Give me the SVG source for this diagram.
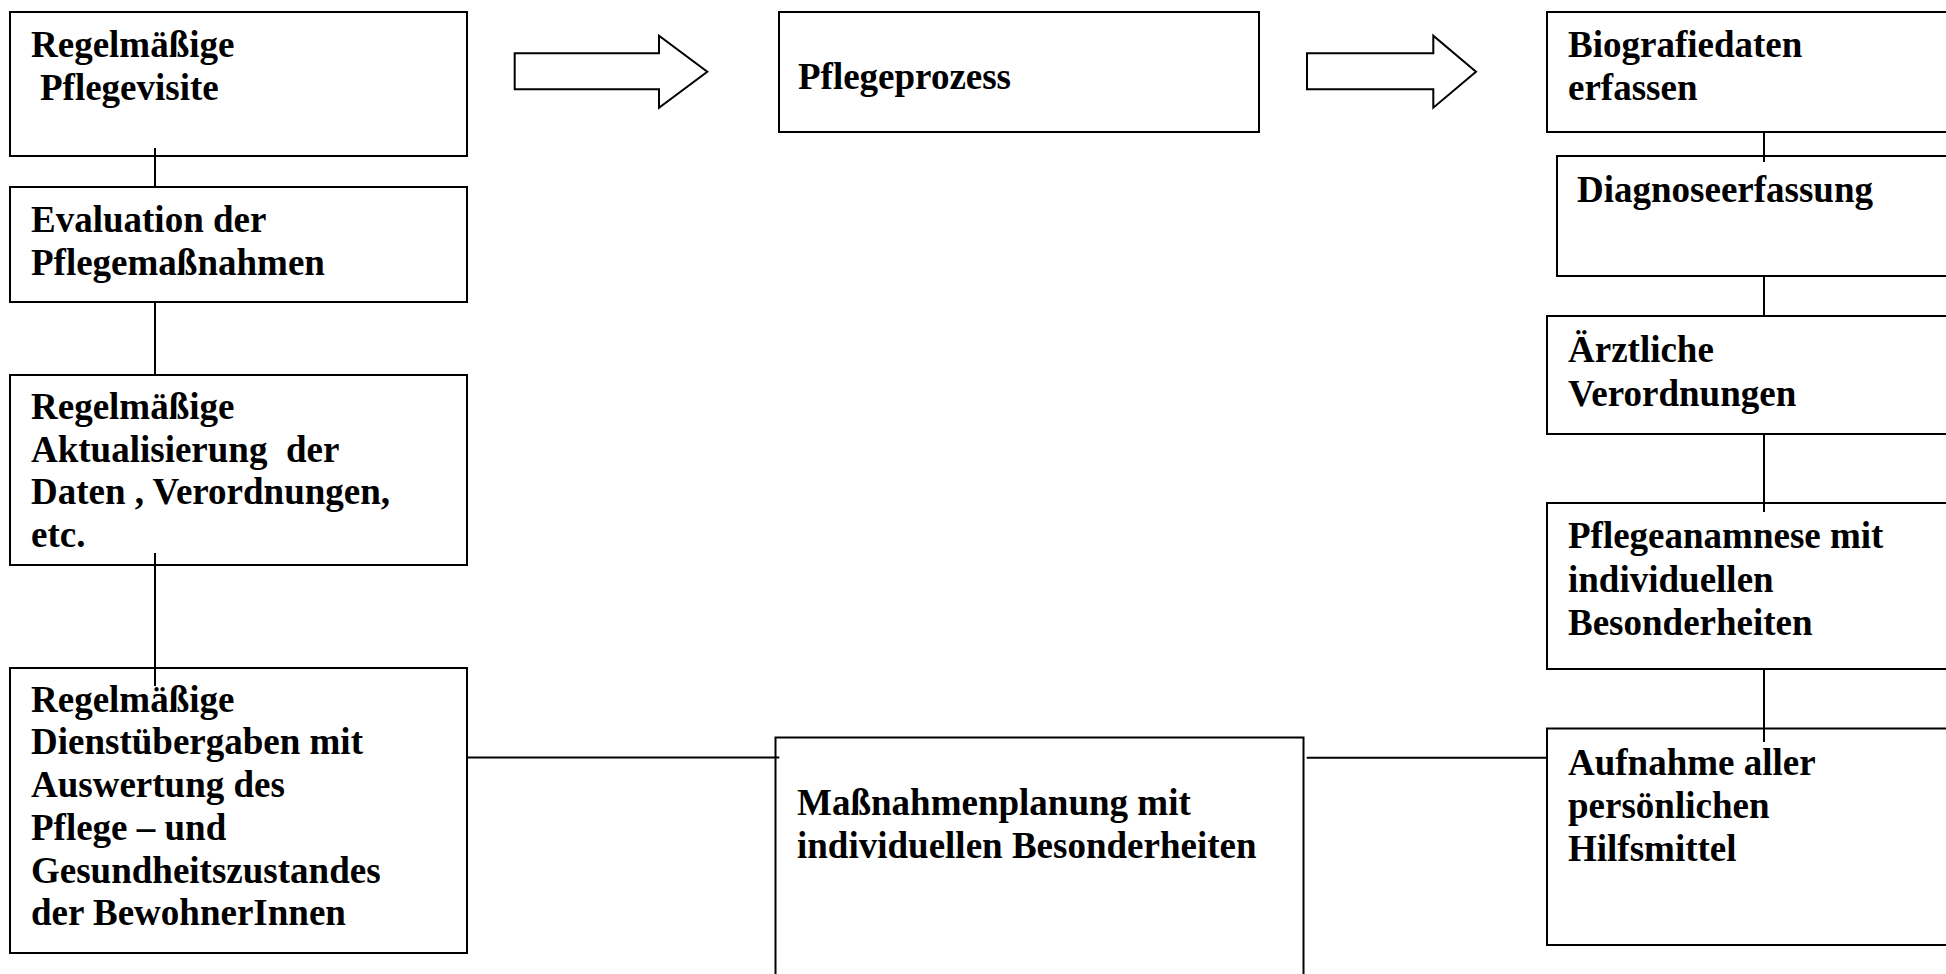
<svg xmlns="http://www.w3.org/2000/svg" width="1946" height="974" viewBox="0 0 1946 974">
<style>
.box{fill:#fff;stroke:#000;stroke-width:2}
.arrow{fill:#fff;stroke:#000;stroke-width:2;stroke-linejoin:miter}
.t{font-family:"Liberation Serif","Times New Roman",serif;font-weight:bold;font-size:37px;fill:#000}
.c{stroke:#000;stroke-width:2;fill:none}
</style>
<rect width="1946" height="974" fill="#fff"/>
<g id="n1"><rect class="box" x="10" y="12" width="457" height="144"/>
<text class="t" x="31" y="57">Regelmäßige</text><text class="t" x="40" y="100">Pflegevisite</text></g>
<g id="n2"><rect class="box" x="10" y="187" width="457" height="115"/>
<text class="t" x="31" y="232">Evaluation der</text><text class="t" x="31" y="275">Pflegemaßnahmen</text></g>
<g id="n3"><rect class="box" x="10" y="375" width="457" height="190"/>
<text class="t" x="31" y="419">Regelmäßige</text><text class="t" x="31" y="462" xml:space="preserve">Aktualisierung  der</text><text class="t" x="31" y="504">Daten , Verordnungen,</text><text class="t" x="31" y="547">etc.</text></g>
<g id="n4"><rect class="box" x="10" y="668" width="457" height="285"/>
<text class="t" x="31" y="712">Regelmäßige</text><text class="t" x="31" y="754">Dienstübergaben mit</text><text class="t" x="31" y="797">Auswertung des</text><text class="t" x="31" y="840">Pflege – und</text><text class="t" x="31" y="883">Gesundheitszustandes</text><text class="t" x="31" y="925">der BewohnerInnen</text></g>
<g id="n5"><rect class="box" x="779" y="12" width="480" height="120"/>
<text class="t" x="798" y="89">Pflegeprozess</text></g>
<g id="n6"><rect class="box" x="775.5" y="737.5" width="528" height="260"/>
<text class="t" x="797" y="815">Maßnahmenplanung mit</text><text class="t" x="797" y="858">individuellen Besonderheiten</text></g>
<g id="n7"><rect class="box" x="1547" y="12" width="420" height="120"/>
<text class="t" x="1568" y="57">Biografiedaten</text><text class="t" x="1568" y="100">erfassen</text></g>
<g id="n8"><rect class="box" x="1557" y="156" width="410" height="120"/>
<text class="t" x="1577" y="202">Diagnoseerfassung</text></g>
<g id="n9"><rect class="box" x="1547" y="316" width="420" height="118"/>
<text class="t" x="1568" y="362">Ärztliche</text><text class="t" x="1568" y="406">Verordnungen</text></g>
<g id="n10"><rect class="box" x="1547" y="503" width="420" height="166"/>
<text class="t" x="1568" y="548">Pflegeanamnese mit</text><text class="t" x="1568" y="592">individuellen</text><text class="t" x="1568" y="635">Besonderheiten</text></g>
<g id="n11"><rect class="box" x="1547" y="728.5" width="420" height="216.5"/>
<text class="t" x="1568" y="775">Aufnahme aller</text><text class="t" x="1568" y="818">persönlichen</text><text class="t" x="1568" y="861">Hilfsmittel</text></g>
<g id="connectors">
<path class="arrow" d="M514.7,53.3 H659 V35.7 L707.3,71.7 L659,107.7 V89.3 H514.7 Z"/>
<path class="arrow" d="M1307,53.3 H1433.3 V35.7 L1476,71.7 L1433.3,107.7 V89.3 H1307 Z"/>
<path class="c" d="M155,148 V187"/>
<path class="c" d="M155,302 V375"/>
<path class="c" d="M155,553 V686"/>
<path class="c" d="M467,757.5 H779.3"/>
<path class="c" d="M1306.7,757.7 H1547"/>
<path class="c" d="M1764,132 V162"/>
<path class="c" d="M1764,276 V316"/>
<path class="c" d="M1764,434 V512"/>
<path class="c" d="M1764,669 V742"/>
</g>
</svg>
